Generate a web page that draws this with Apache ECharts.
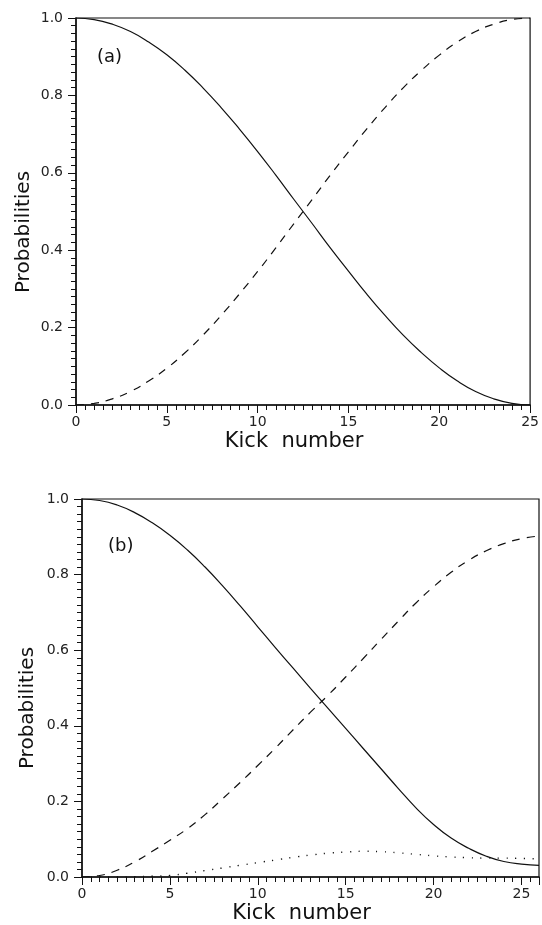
<!DOCTYPE html>
<html lang="en">
<head>
    <meta charset="UTF-8">
    <title>Kick probabilities</title>
    <script src="https://cdn.jsdelivr.net/npm/echarts@6/dist/echarts.min.js"></script>
    <style>
        html, body { margin: 0; padding: 0; background: #fff; overflow: hidden; }
        #chart { width: 542px; height: 925px; }
    </style>
</head>
<body>
<div id="chart"></div>
<script>
    // kick numbers
    const kicksA = [0,1,2,3,4,5,6,7,8,9,10,11,12,13,14,15,16,17,18,19,20,21,22,23,24,25];
    const kicksB = [0,1,2,3,4,5,6,7,8,9,10,11,12,13,14,15,16,17,18,19,20,21,22,23,24,25,26];

    // panel (a): solid and dashed curves
    const solidA = [1.0,0.996,0.984,0.965,0.938,0.905,0.865,0.819,0.768,0.713,0.655,0.594,0.531,0.469,0.406,0.346,0.287,0.232,0.181,0.136,0.096,0.062,0.035,0.016,0.004,0.0];
    const dashedA = [0.0,0.004,0.016,0.035,0.062,0.095,0.135,0.181,0.232,0.287,0.345,0.406,0.469,0.531,0.594,0.654,0.713,0.768,0.819,0.864,0.904,0.938,0.965,0.984,0.996,1.0];

    // panel (b): solid, dashed and dotted curves
    const solidB = [1.0,0.996,0.984,0.964,0.937,0.904,0.865,0.820,0.770,0.717,0.662,0.607,0.553,0.499,0.446,0.393,0.340,0.287,0.234,0.183,0.139,0.103,0.076,0.055,0.041,0.034,0.031];
    const dashedB = [0.0,0.004,0.018,0.040,0.068,0.097,0.128,0.165,0.207,0.250,0.295,0.341,0.389,0.436,0.481,0.529,0.578,0.628,0.677,0.725,0.768,0.806,0.838,0.863,0.882,0.895,0.902];
    const dottedB = [0.0,0.0,0.0,0.001,0.002,0.004,0.010,0.017,0.024,0.031,0.038,0.045,0.052,0.058,0.063,0.066,0.068,0.067,0.064,0.060,0.056,0.053,0.051,0.050,0.050,0.049,0.048];

    const yTicks = [0, 0.2, 0.4, 0.6, 0.8, 1.0];
    const ink = '#111';
    const font = 'DejaVu Sans';

    function pairs(xs, ys) {
        return xs.map(function (x, i) { return [x, ys[i]]; });
    }

    function xAxisFor(idx, max) {
        return {
            gridIndex: idx, type: 'value', min: 0, max: max, interval: 5,
            name: 'Kick  number', nameLocation: 'middle', nameGap: 26,
            nameTextStyle: {fontFamily: font, fontSize: 21, color: ink, padding: [0, 18, 0, 0]},
            axisLine: {lineStyle: {color: ink, width: 1.5}},
            axisTick: {show: true, inside: false, length: 8, lineStyle: {color: ink}},
            minorTick: {show: true, splitNumber: 10, length: 5, lineStyle: {color: ink}},
            axisLabel: {fontFamily: font, fontSize: 14, color: '#222', margin: 10,
                formatter: function (v) { return v <= 25 ? String(v) : ''; }},
            splitLine: {show: false}
        };
    }

    function yAxisFor(idx) {
        return {
            gridIndex: idx, type: 'value', min: 0, max: 1, interval: 0.2,
            axisLine: {lineStyle: {color: ink, width: 1.5}},
            axisTick: {show: true, inside: false, length: 8, lineStyle: {color: ink}},
            minorTick: {show: true, splitNumber: 10, length: 5, lineStyle: {color: ink}},
            axisLabel: {fontFamily: font, fontSize: 14, color: '#222', margin: 13,
                formatter: function (v) { return yTicks.indexOf(+v.toFixed(1)) >= 0 ? v.toFixed(1) : ''; }},
            splitLine: {show: false}
        };
    }

    function line(idx, data, type) {
        return {
            type: 'line', xAxisIndex: idx, yAxisIndex: idx, data: data,
            smooth: true, showSymbol: false, silent: true,
            lineStyle: {color: ink, width: type === 'dotted' ? 1.4 : 1.2,
                type: type === 'dashed' ? [8, 7] : type === 'dotted' ? [1.2, 7.5] : 'solid'}
        };
    }

    function vText(text, x, y) {
        return {type: 'text', x: x, y: y, rotation: Math.PI / 2,
            style: {text: text, font: '20px DejaVu Sans', fill: ink, align: 'center', verticalAlign: 'middle'}};
    }

    const chart = echarts.init(document.getElementById('chart'), null, {renderer: 'canvas'});
    chart.setOption({
        backgroundColor: '#fff',
        animation: false,
        grid: [
            {left: 76, top: 18, width: 460, height: 387, show: true, borderColor: ink, borderWidth: 1.2},
            {left: 82, top: 499, width: 462, height: 383, show: true, borderColor: ink, borderWidth: 1.2}
        ],
        xAxis: [xAxisFor(0, 25), xAxisFor(1, 26)],
        yAxis: [yAxisFor(0), yAxisFor(1)],
        graphic: [
            {type: 'text', left: 97, top: 48, style: {text: '(a)', font: '18px DejaVu Sans', fill: ink}},
            {type: 'text', left: 108, top: 537, style: {text: '(b)', font: '18px DejaVu Sans', fill: ink}},
            vText('Probabilities', 24, 232),
            vText('Probabilities', 28, 708)
        ],
        series: [
            line(0, pairs(kicksA, solidA), 'solid'),
            line(0, pairs(kicksA, dashedA), 'dashed'),
            line(1, pairs(kicksB, solidB), 'solid'),
            line(1, pairs(kicksB, dashedB), 'dashed'),
            line(1, pairs(kicksB, dottedB), 'dotted')
        ]
    });
</script>
</body>
</html>
